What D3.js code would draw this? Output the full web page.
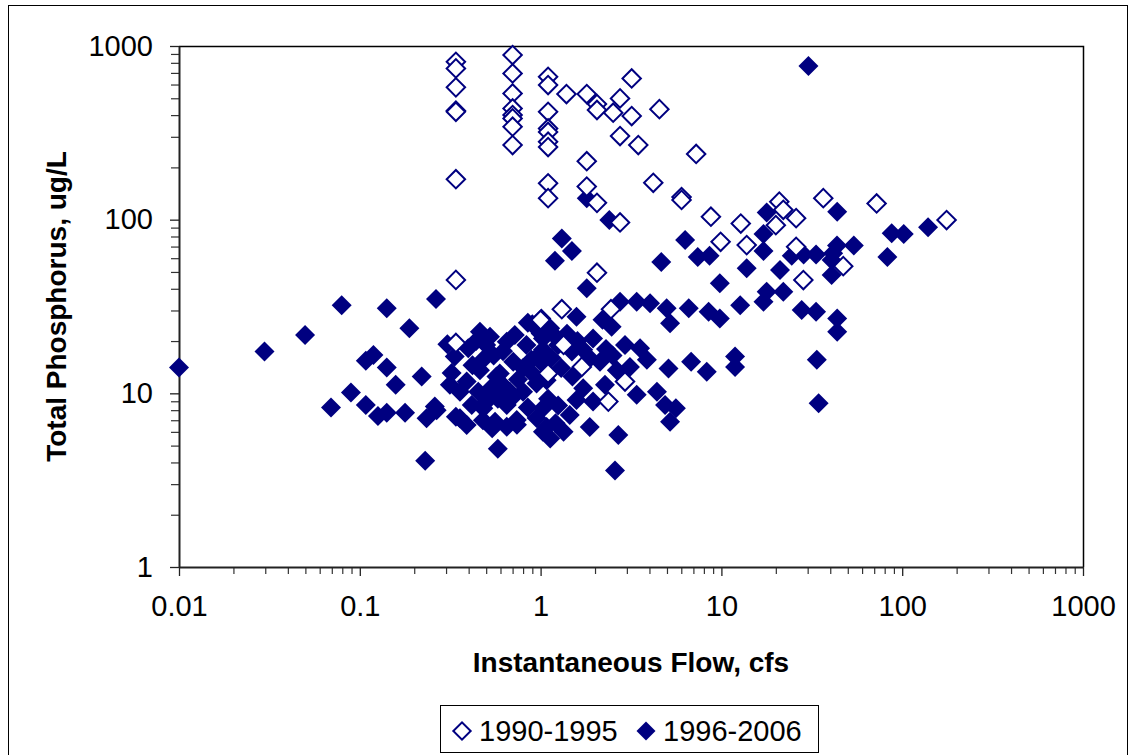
<!DOCTYPE html>
<html>
<head>
<meta charset="utf-8">
<script src="https://cdn.jsdelivr.net/npm/d3@7"></script>
<style>
    body { margin: 0; background: #fff; }
    svg { display: block; font-family: Arial, "Liberation Sans", sans-serif; }
</style>
</head>
<body>
<svg width="1130" height="755"></svg>
<script>
// 1990-1995 samples (open diamonds)
const flow9095 = [0.34, 0.34, 0.34, 0.34, 0.34, 0.34, 0.34, 0.34,
    0.70, 0.70, 0.70, 0.70, 0.70, 0.70, 0.70, 0.70,
    1.10, 1.10, 1.10, 1.10, 1.10, 1.10, 1.10, 1.10, 1.10,
    1.39, 1.80, 2.05, 2.05, 2.75, 2.52, 3.19, 3.19, 4.54, 2.75, 3.47,
    1.80, 4.20, 7.25, 1.80, 2.05, 6.02, 6.02, 2.75, 8.75, 12.8, 9.9,
    13.8, 20.9, 22, 25.9, 20, 25.9, 36.6, 72.2, 176, 28.4, 47.2, 2.05,
    1.31, 1.0, 2.45, 1.1, 1.69, 2.93, 2.37, 1.34];
const tp9095 = [811, 743, 578, 424, 418, 171, 45, 19.5,
    887, 695, 533, 437, 400, 383, 343, 269,
    665, 596, 418, 335, 320, 281, 262, 162, 133,
    529, 529, 463, 428, 499, 413, 650, 395, 433, 303, 269,
    217, 163, 239, 155, 125, 135, 130, 96.4, 104, 95, 74.6,
    71.4, 127, 114, 102, 93, 69.8, 133, 124, 99.5, 44.9, 54, 49.5,
    30.5, 26.4, 30.5, 13, 14.2, 11.7, 8.96, 19];

// 1996-2006 samples (filled diamonds)
const flow9606 = [0.01, 0.0297, 0.0498, 0.0794, 0.141, 0.188, 0.264, 0.108, 0.119, 0.141,
    0.158, 0.0893, 0.0693, 0.108, 0.126, 0.141, 0.178, 0.22, 0.305, 0.322,
    0.234, 0.266, 0.34, 0.23, 0.58, 0.335, 0.398, 0.462, 0.525, 0.358,
    0.462, 0.39, 0.452, 0.503, 0.358, 0.39, 0.482, 0.56, 0.65, 0.738,
    0.65, 0.676, 0.80, 0.595, 0.706, 0.65, 0.72, 0.835, 1.0, 1.01,
    0.89, 1.03, 0.95, 1.08, 1.08, 1.03, 0.57, 0.53, 0.48, 0.315,
    0.416, 0.26, 0.54, 0.74, 0.48, 1.03, 0.85, 0.9, 2.75, 3.4,
    4.03, 4.98, 5.2, 6.6, 1.58, 1.13, 1.03, 1.21, 1.49, 1.95,
    2.47, 2.93, 3.55, 3.87, 3.12, 2.64, 2.13, 1.72, 1.87, 1.0,
    1.0, 1.08, 1.5, 1.72, 1.95, 1.58, 1.45, 1.21, 1.13, 1.34,
    1.87, 2.69, 2.58, 2.27, 3.4, 4.4, 4.88, 5.6, 5.2, 5.1,
    6.8, 8.3, 11.9, 11.9, 1.8, 9.8, 13.8, 21.1, 17.8, 22,
    17.1, 12.7, 27.8, 33.4, 8.5, 9.8, 43.7, 43.7, 33.7, 34.5,
    1.2, 1.49, 4.65, 7.4, 8.6, 17.1, 24.5, 28.5, 33.4, 41.5,
    40.7, 40.7, 43.6, 54, 82.8, 87.5, 102, 139, 43.7, 17.8,
    17.1, 6.3, 1.31, 2.4, 1.8, 30.3, 2.2,
    0.42, 0.55, 0.6, 0.75, 0.62, 0.44, 0.8, 0.9, 0.7, 0.58,
    0.85, 0.95, 1.15, 1.3, 1.25, 1.4, 1.1, 1.25, 1.6, 2.3,
    2.5, 0.5];
const tp9606 = [14.1, 17.4, 21.7, 32.2, 30.9, 23.7, 34.9, 15.4, 16.6, 14.1,
    11.2, 10.1, 8.3, 8.57, 7.4, 7.73, 7.73, 12.5, 19.2, 13.1,
    7.18, 8.0, 7.34, 4.09, 4.8, 16.3, 18.2, 22.6, 21.2, 10.2,
    13.6, 11.7, 10.2, 8.96, 7.18, 6.57, 8.2, 6.87, 6.42, 7.02,
    8.57, 10.2, 10.2, 13, 15.2, 19.8, 21.7, 19, 22.1, 27,
    15.6, 17.8, 11.4, 12.7, 6.4, 8.2, 12.5, 10.7, 15.6, 11.2,
    8.57, 8.4, 6.3, 6.6, 7.0, 6.0, 25.5, 25, 33.7, 33.7,
    33, 30.9, 25.3, 30.9, 27.6, 23.7, 20.7, 21.2, 17.4, 20.7,
    24.2, 19, 18.2, 15.6, 14.2, 13.6, 15.2, 17.8, 15.9, 17,
    15.2, 11.9, 12.5, 10.7, 8.96, 9.15, 7.5, 6.72, 5.5, 6.0,
    6.4, 5.75, 3.6, 11.2, 9.8, 10.2, 8.57, 8.2, 6.87, 13.9,
    15.2, 13.3, 16.3, 14.2, 40.3, 43, 52.5, 51.3, 38.5, 38.5,
    33.7, 32.2, 30.2, 29.5, 29.5, 27, 27, 22.6, 15.6, 8.76,
    58, 66, 57, 61, 62, 66, 62, 63, 63, 64,
    58.5, 48, 71, 71, 61, 83.4, 82.6, 90.3, 111, 110,
    82.6, 76.3, 78, 99.5, 133, 766, 26.5,
    14.5, 16.5, 11.5, 12, 17.5, 20, 14, 13, 9.5, 9.3,
    8.3, 7.2, 16, 14, 19, 22, 9.3, 8.5, 20, 18,
    16.5, 19];

const seriesNames = ["1990-1995", "1996-2006"];
const xTickLabels = ["0.01", "0.1", "1", "10", "100", "1000"];
const yTickLabels = ["1", "10", "100", "1000"];

const navy = "#000080";
const fontSize = 29;
const svg = d3.select("svg");

const x = d3.scaleLog().domain([0.01, 1000]).range([179, 1083]);
const y = d3.scaleLog().domain([1, 1000]).range([567, 46]);

// outer chart border
svg.append("rect")
    .attr("x", 8.5).attr("y", 5.5)
    .attr("width", 1119).attr("height", 800)
    .attr("fill", "#fff")
    .attr("stroke", "#000")
    .attr("stroke-width", 1);

// plot area border (top and right)
svg.append("path")
    .attr("d", `M${x(0.01)},${y(1000) + 0.5}H${x(1000) + 0.5}V${y(1)}`)
    .attr("fill", "none")
    .attr("stroke", "#000")
    .attr("stroke-width", 1.5);

// minor ticks
const minorX = x.ticks().filter(v => xTickLabels.indexOf(String(v)) < 0);
const minorY = y.ticks().filter(v => yTickLabels.indexOf(String(v)) < 0);

svg.append("g")
    .attr("transform", `translate(0,${y(1)})`)
    .call(d3.axisBottom(x).tickValues(minorX).tickSize(7).tickFormat(""))
    .call(g => g.select(".domain").remove())
    .selectAll("line").attr("stroke", "#333").attr("stroke-width", 1.2);

svg.append("g")
    .attr("transform", `translate(${x(0.01)},0)`)
    .call(d3.axisLeft(y).tickValues(minorY).tickSize(8).tickFormat(""))
    .call(g => g.select(".domain").remove())
    .selectAll("line").attr("stroke", "#333").attr("stroke-width", 1.2);

// major axes
const xAxis = svg.append("g")
    .attr("transform", `translate(0,${y(1)})`)
    .call(d3.axisBottom(x)
        .tickValues(xTickLabels.map(Number))
        .tickSize(9)
        .tickSizeOuter(0)
        .tickPadding(19)
        .tickFormat((d, i) => xTickLabels[i]));

const yAxis = svg.append("g")
    .attr("transform", `translate(${x(0.01)},0)`)
    .call(d3.axisLeft(y)
        .tickValues(yTickLabels.map(Number))
        .tickSize(9)
        .tickSizeOuter(0)
        .tickPadding(17)
        .tickFormat((d, i) => yTickLabels[i]));

[xAxis, yAxis].forEach(a => {
    a.select(".domain").attr("stroke", "#222").attr("stroke-width", 2);
    a.selectAll(".tick line").attr("stroke", "#222").attr("stroke-width", 1.3);
    a.selectAll("text")
        .attr("font-size", fontSize)
        .attr("font-family", "Arial, 'Liberation Sans', sans-serif")
        .attr("fill", "#000");
});

// axis titles
svg.append("text")
    .attr("x", (x(0.01) + x(1000)) / 2)
    .attr("y", 672)
    .attr("text-anchor", "middle")
    .attr("font-size", 28)
    .attr("font-weight", "bold")
    .text("Instantaneous Flow, cfs");

svg.append("text")
    .attr("transform", `translate(66,${(y(1) + y(1000)) / 2}) rotate(-90)`)
    .attr("text-anchor", "middle")
    .attr("font-size", 28)
    .attr("font-weight", "bold")
    .text("Total Phosphorus, ug/L");

// markers
const diamond = d3.symbol().type(d3.symbolSquare).size(200);

const filled = flow9606.map((f, i) => ({ flow: f, tp: tp9606[i] }));
const open = flow9095.map((f, i) => ({ flow: f, tp: tp9095[i] }));

svg.append("g")
    .selectAll("path")
    .data(filled)
    .enter().append("path")
    .attr("d", diamond)
    .attr("transform", d => `translate(${x(d.flow)},${y(d.tp)}) rotate(45)`)
    .attr("fill", navy);

svg.append("g")
    .selectAll("path")
    .data(open)
    .enter().append("path")
    .attr("d", d3.symbol().type(d3.symbolSquare).size(170))
    .attr("transform", d => `translate(${x(d.flow)},${y(d.tp)}) rotate(45)`)
    .attr("fill", "#fff")
    .attr("stroke", navy)
    .attr("stroke-width", 2);

// legend
const legend = svg.append("g");
legend.append("rect")
    .attr("x", 440.5).attr("y", 705.5)
    .attr("width", 378).attr("height", 47)
    .attr("fill", "#fff")
    .attr("stroke", "#000");

const legendX = [462, 646];
seriesNames.forEach((name, i) => {
    const mark = legend.append("path")
        .attr("transform", `translate(${legendX[i]},731) rotate(45)`);
    if (i === 0) {
        mark.attr("d", d3.symbol().type(d3.symbolSquare).size(150))
            .attr("fill", "#fff").attr("stroke", navy).attr("stroke-width", 2);
    } else {
        mark.attr("d", d3.symbol().type(d3.symbolSquare).size(180))
            .attr("fill", navy);
    }
    legend.append("text")
        .attr("x", legendX[i] + 17)
        .attr("y", 741)
        .attr("font-size", fontSize)
        .text(name);
});
</script>
</body>
</html>
